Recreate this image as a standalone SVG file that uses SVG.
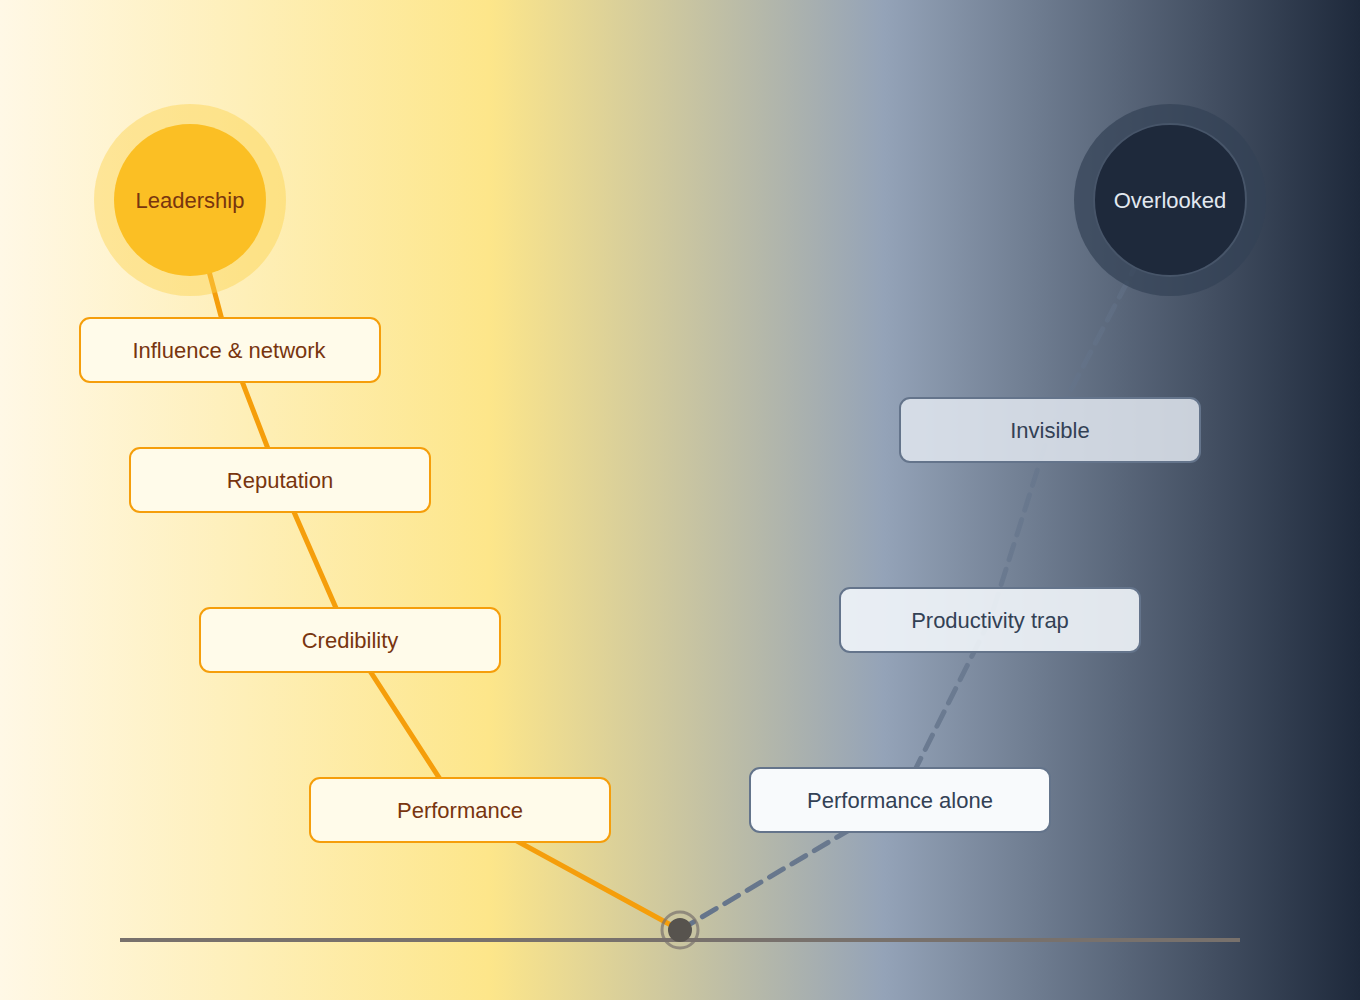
<svg xmlns="http://www.w3.org/2000/svg" width="1360" height="1000" viewBox="0 0 1360 1000">
<defs>
<linearGradient id="bg" x1="0" y1="0" x2="1" y2="0">
<stop offset="0" stop-color="#fff8e6"/>
<stop offset="0.36" stop-color="#fde68a"/>
<stop offset="0.65" stop-color="#94a3b8"/>
<stop offset="1" stop-color="#1e293b"/>
</linearGradient>
<linearGradient id="fade" gradientUnits="userSpaceOnUse" x1="0" y1="930" x2="0" y2="200">
<stop offset="0" stop-color="#64748b" stop-opacity="1"/>
<stop offset="1" stop-color="#64748b" stop-opacity="0.35"/>
</linearGradient>
<style>
text{font-family:"Liberation Sans",Arial,sans-serif;font-size:22px;text-anchor:middle;dominant-baseline:central}
.lb rect{fill:#fffbea;stroke:#f59e0b;stroke-width:2}
.lb text{fill:#78350f}
.rb rect{stroke:#64748b;stroke-width:2}
.rb text{fill:#334155}
</style>
</defs>
<rect width="1360" height="1000" fill="url(#bg)"/>
<line x1="120" y1="940" x2="1240" y2="940" stroke="#78716c" stroke-width="4"/>
<g id="connectors" fill="none">
<polyline points="680,930 460,810 350,640 280,480 230,350 190,200" stroke="#f59e0b" stroke-width="5"/>
<polyline points="680,930 900,800 990,620 1050,430 1170,200" stroke="url(#fade)" stroke-width="5" stroke-dasharray="16,10" stroke-linecap="round"/>
</g>
<g id="leadership">
<circle cx="190" cy="200" r="96" fill="#fcd34d" opacity="0.45"/>
<circle cx="190" cy="200" r="76" fill="#fbbf24"/>
<text x="190" y="200" fill="#78350f">Leadership</text>
</g>
<g id="overlooked">
<circle cx="1170" cy="200" r="96" fill="#334155" opacity="0.7"/>
<circle cx="1170" cy="200" r="76" fill="#1e293b" stroke="#475569" stroke-width="2"/>
<text x="1170" y="200" fill="#e2e8f0">Overlooked</text>
</g>
<g id="influence" class="lb"><rect x="80" y="318" width="300" height="64" rx="10"/><text x="229" y="350">Influence &amp; network</text></g>
<g id="reputation" class="lb"><rect x="130" y="448" width="300" height="64" rx="10"/><text x="280" y="480">Reputation</text></g>
<g id="credibility" class="lb"><rect x="200" y="608" width="300" height="64" rx="10"/><text x="350" y="640">Credibility</text></g>
<g id="performance" class="lb"><rect x="310" y="778" width="300" height="64" rx="10"/><text x="460" y="810">Performance</text></g>
<g id="invisible" class="rb"><rect x="900" y="398" width="300" height="64" rx="10" fill="#e2e8f0" fill-opacity="0.85"/><text x="1050" y="430" fill="#475569">Invisible</text></g>
<g id="trap" class="rb"><rect x="840" y="588" width="300" height="64" rx="10" fill="#f1f5f9" fill-opacity="0.9"/><text x="990" y="620">Productivity trap</text></g>
<g id="alone" class="rb"><rect x="750" y="768" width="300" height="64" rx="10" fill="#f8fafc"/><text x="900" y="800">Performance alone</text></g>
<g id="origin">
<circle cx="680" cy="930" r="18" fill="none" stroke="#78716c" stroke-width="3" opacity="0.7"/>
<circle cx="680" cy="930" r="12" fill="#57534e"/>
</g>
</svg>
